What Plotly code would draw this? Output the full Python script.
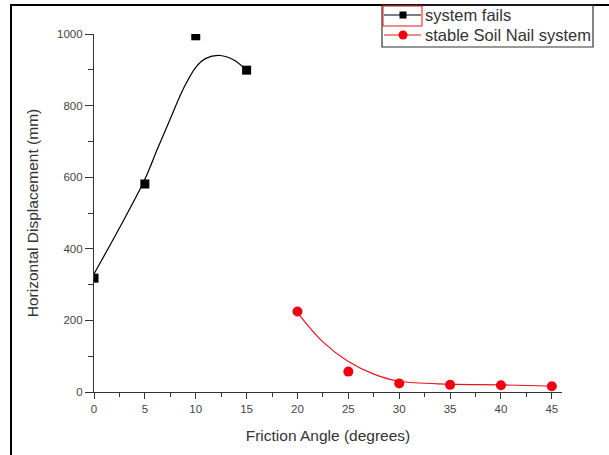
import plotly.graph_objects as go

# Measured horizontal displacement vs. friction angle
fail_angle = [0, 5, 10, 15]
fail_disp = [318, 581, 995, 899]

stable_angle = [20, 25, 30, 35, 40, 45]
stable_disp = [225, 57, 24, 20, 19, 16]

# Smoothed trend lines through each series
fail_fit_angle = [0, 2.5, 5, 6.25, 7.5, 8.75, 10, 11, 12.4, 13.7, 15]
fail_fit_disp = [330, 458, 594, 680, 763, 845, 907, 932, 940, 928, 899]

stable_fit_angle = [20, 22.5, 25, 27.5, 30, 35, 40, 45]
stable_fit_disp = [222, 140, 85, 50, 30, 22, 20, 16]

series_names = ["system fails", "stable Soil Nail system"]

x_ticks = [0, 5, 10, 15, 20, 25, 30, 35, 40, 45]
y_ticks = [0, 200, 400, 600, 800, 1000]

FONT = "Liberation Sans, Arial, sans-serif"
BLACK = "black"
RED = "#e8141c"
RED_MARK = "#f00010"

fig = go.Figure()

fig.add_trace(go.Scatter(
    x=fail_fit_angle, y=fail_fit_disp, mode="lines",
    line=dict(color=BLACK, width=1.2, shape="spline", smoothing=1.0),
    showlegend=False, hoverinfo="skip"))
fig.add_trace(go.Scatter(
    x=stable_fit_angle, y=stable_fit_disp, mode="lines",
    line=dict(color=RED, width=1.2, shape="spline", smoothing=1.0),
    showlegend=False, hoverinfo="skip"))

fig.add_trace(go.Scatter(
    x=fail_angle, y=fail_disp, mode="markers", name=series_names[0], showlegend=False,
    marker=dict(symbol="square", size=9, color=BLACK)))
fig.add_trace(go.Scatter(
    x=stable_angle, y=stable_disp, mode="markers", name=series_names[1], showlegend=False,
    marker=dict(symbol="circle", size=10, color=RED_MARK)))

# pixel -> paper helpers for the plot box (left 94, right 562, top 34, bottom 392)
def px(x):
    return (x - 94) / 468.0

def py(y):
    return (392 - y) / 358.0

def line_px(x0, y0, x1, y1, color, width):
    return dict(type="line", xref="paper", yref="paper",
                x0=px(x0), x1=px(x1), y0=py(y0), y1=py(y1),
                line=dict(color=color, width=width))

shapes = [
    # page frame
    line_px(11, 5, 11, 456, "black", 2),
    line_px(10, 5, 610, 5, "black", 2),
    # legend box
    dict(type="rect", xref="paper", yref="paper", x0=px(382), x1=px(593), y0=py(47), y1=py(5),
         line=dict(color="#333333", width=1.2), fillcolor="rgba(0,0,0,0)"),
    # legend glyphs
    line_px(384, 15, 421, 15, BLACK, 1.2),
    dict(type="rect", xref="paper", yref="paper", x0=px(399.5), x1=px(406.5), y0=py(18.5), y1=py(11.5),
         line=dict(width=0), fillcolor=BLACK),
    line_px(384, 35, 421, 35, RED, 1.2),
    dict(type="circle", xref="paper", yref="paper", x0=px(398.5), x1=px(407.5), y0=py(39.5), y1=py(30.5),
         line=dict(width=0), fillcolor=RED_MARK),
    # highlight box around first legend symbol
    dict(type="rect", xref="paper", yref="paper", x0=px(383), x1=px(422), y0=py(26), y1=py(6),
         line=dict(color=RED, width=1), fillcolor="rgba(0,0,0,0)"),
]

annotations = [
    dict(text=series_names[0], xref="paper", yref="paper", x=px(423), y=py(15),
         xanchor="left", yanchor="middle", showarrow=False,
         font=dict(family=FONT, size=16.5, color="#333333")),
    dict(text=series_names[1], xref="paper", yref="paper", x=px(423), y=py(35),
         xanchor="left", yanchor="middle", showarrow=False,
         font=dict(family=FONT, size=16.5, color="#333333")),
]

fig.update_layout(
    width=609, height=455,
    margin=dict(l=94, r=47, t=34, b=63, autoexpand=False),
    paper_bgcolor="white", plot_bgcolor="white",
    font=dict(family=FONT, color="#333333"),
    shapes=shapes,
    annotations=annotations,
    showlegend=False,
    xaxis=dict(range=[0, 46], tickvals=x_ticks, ticktext=[str(v) for v in x_ticks],
               showgrid=False, zeroline=False, showline=True, linecolor="#333333", linewidth=1.2,
               ticks="outside", ticklen=6, tickcolor="#333333", tickwidth=1.2,
               minor=dict(ticks="outside", ticklen=4, dtick=2.5, tick0=0, tickcolor="#333333"),
               tickfont=dict(family=FONT, size=11.5, color="#444444"),
               title=dict(text="Friction Angle (degrees)", font=dict(family=FONT, size=15.5, color="#333333"),
                          standoff=16)),
    yaxis=dict(range=[0, 1000], tickvals=y_ticks, ticktext=[str(v) for v in y_ticks],
               showgrid=False, zeroline=False, showline=True, linecolor="#333333", linewidth=1.2,
               ticks="outside", ticklen=8, tickcolor="#333333", tickwidth=1.2,
               minor=dict(ticks="outside", ticklen=5, dtick=100, tick0=0, tickcolor="#333333"),
               tickfont=dict(family=FONT, size=11.5, color="#444444"),
               title=dict(text="Horizontal Displacement (mm)", font=dict(family=FONT, size=15.5, color="#333333"),
                          standoff=14)),
)

fig.write_html("out.html")
